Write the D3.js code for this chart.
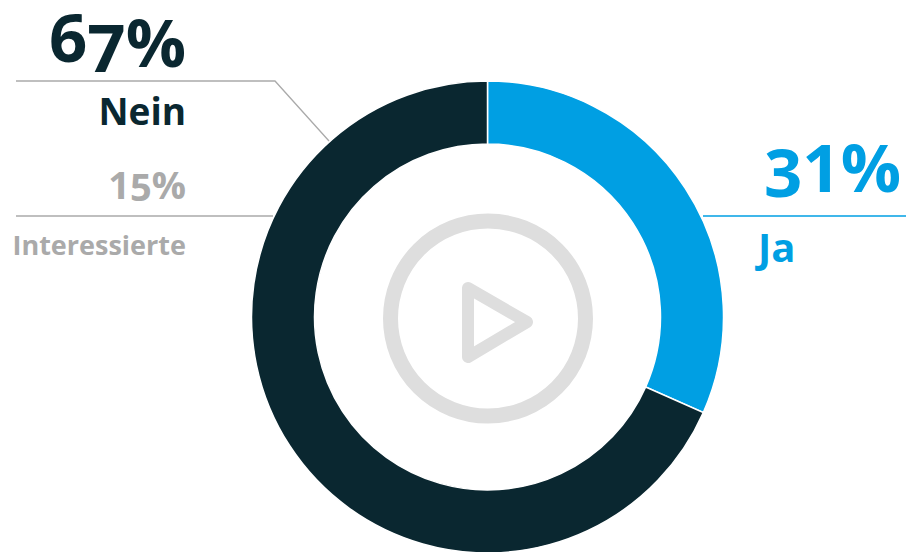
<!DOCTYPE html>
<html>
<head>
<meta charset="utf-8">
<script src="https://cdn.jsdelivr.net/npm/d3@7"></script>
<style>
html, body { margin: 0; padding: 0; background: #fff; overflow: hidden; }
text { font-family: "Open Sans", sans-serif; font-weight: 700; }
</style>
</head>
<body>
<script>
// answers, clockwise from 12 o'clock
var categories = ["Ja", "Nein"];
var values = [31, 67];
var colors = ["#009fe3", "#0a2730"];

// the grey label is a share of the "Nein" group, it has no slice of its own
var subCategory = "Interessierte";
var subValue = 15;

var width = 906;
var height = 552;
var cx = 487.5;
var cy = 317;

var svg = d3.select("body").append("svg")
            .attr("width", width)
            .attr("height", height);

var pie = d3.pie().sort(null);
var arc = d3.arc().innerRadius(173).outerRadius(236);

svg.append("g")
   .attr("transform", "translate(" + cx + "," + cy + ")")
   .selectAll("path")
   .data(pie(values))
   .enter()
   .append("path")
       .attr("d", arc)
       .attr("fill", function(d, i){ return colors[i]; })
       .attr("stroke", "#fff")
       .attr("stroke-width", 1.5);

// play button in the hole
svg.append("circle")
   .attr("cx", 488)
   .attr("cy", 318.5)
   .attr("r", 97.5)
   .attr("fill", "none")
   .attr("stroke", "#dedede")
   .attr("stroke-width", 15);

svg.append("path")
   .attr("d", "M468,288L527,322L468,357Z")
   .attr("fill", "none")
   .attr("stroke", "#dedede")
   .attr("stroke-width", 12)
   .attr("stroke-linejoin", "round");

// leader lines
function line(d, color){
  svg.append("path")
     .attr("d", d)
     .attr("fill", "none")
     .attr("stroke", color)
     .attr("stroke-width", 1.3);
}
line("M16,81H275L329,141", "#aaaaaa");
line("M16,216H273", "#aaaaaa");
line("M703,216H906", colors[0]);

// dy shifts single glyphs, the original font has hanging figures
function label(x, y, size, anchor, color, str, dy){
  svg.append("text")
     .attr("x", x)
     .attr("y", y)
     .attr("dy", dy || null)
     .attr("font-size", size)
     .attr("text-anchor", anchor)
     .attr("fill", color)
     .text(str);
}

label(186, 62, 67, "end", colors[1], values[1] + "%", "0 10 -5");
label(186, 125, 37, "end", colors[1], categories[1]);
label(186, 199, 38, "end", "#aaaaaa", subValue + "%", "0 2 -2");
label(186, 255, 27, "end", "#aaaaaa", subCategory);
label(901, 197, 67, "end", colors[0], values[0] + "%", "0 -5 0");
label(758, 262, 40, "start", colors[0], categories[0]);
</script>
</body>
</html>
